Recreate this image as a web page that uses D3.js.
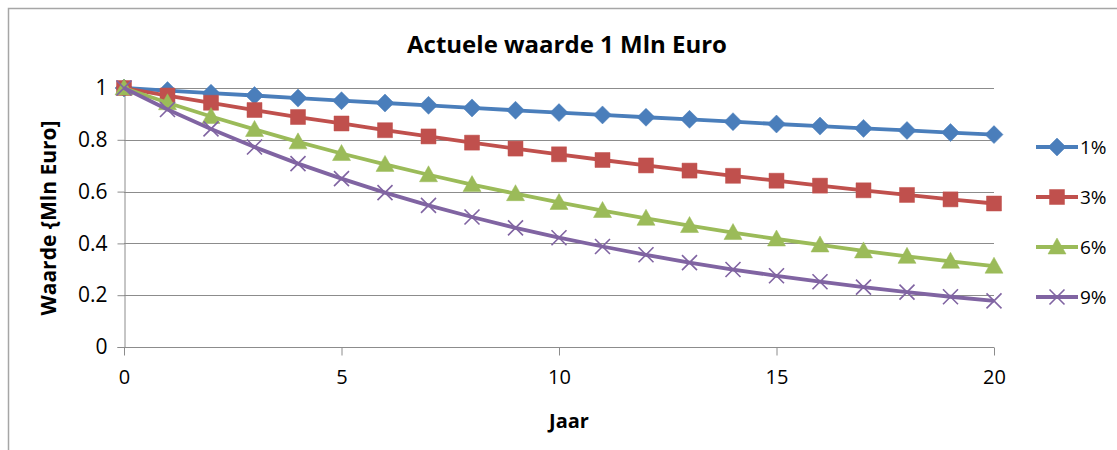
<!DOCTYPE html>
<html>
<head>
<meta charset="utf-8">
<script src="https://cdn.jsdelivr.net/npm/d3@7"></script>
<style>
  html, body { margin: 0; padding: 0; background: #fff; }
  svg { display: block; }
  text { font-family: "Open Sans", "Noto Sans", sans-serif; fill: #000; }
</style>
</head>
<body>
<svg id="chart" width="1117" height="450"></svg>
<script>
// Years on the horizontal axis
const years = [0,1,2,3,4,5,6,7,8,9,10,11,12,13,14,15,16,17,18,19,20];

// Present value of 1 million euro per discount rate
const rate1 = [1.000,0.990,0.980,0.971,0.961,0.951,0.942,0.933,0.923,0.914,0.905,0.896,0.887,0.879,0.870,0.861,0.853,0.844,0.836,0.828,0.820];
const rate3 = [1.000,0.971,0.943,0.915,0.888,0.863,0.837,0.813,0.789,0.766,0.744,0.722,0.701,0.681,0.661,0.642,0.623,0.605,0.587,0.570,0.554];
const rate6 = [1.000,0.943,0.890,0.840,0.792,0.747,0.705,0.665,0.627,0.592,0.558,0.527,0.497,0.469,0.442,0.417,0.394,0.371,0.350,0.331,0.312];
const rate9 = [1.000,0.917,0.842,0.772,0.708,0.650,0.596,0.547,0.502,0.460,0.422,0.388,0.356,0.326,0.299,0.275,0.252,0.231,0.212,0.194,0.178];

const seriesNames = ["1%", "3%", "6%", "9%"];
const xTicks = [0, 5, 10, 15, 20];
const yTicks = [0, 0.2, 0.4, 0.6, 0.8, 1];

const seriesValues = [rate1, rate3, rate6, rate9];
const colors = ["#4a7ebb", "#c0504d", "#9bbb59", "#8064a2"];
const markers = ["diamond", "square", "triangle", "cross"];

const svg = d3.select("#chart");

// Outer chart frame (only top and left edges are in view)
svg.append("path")
  .attr("d", "M8.5,450 L8.5,8.5 L1117,8.5")
  .attr("fill", "none")
  .attr("stroke", "#a6a6a6")
  .attr("stroke-width", 1.5);

const plot = { left: 124, right: 994, top: 88, bottom: 347 };

const x = d3.scaleLinear().domain([0, 20]).range([plot.left, plot.right]);
const y = d3.scaleLinear().domain([0, 1]).range([plot.bottom, plot.top]);

// Horizontal gridlines
svg.append("g")
  .selectAll("line")
  .data(yTicks.filter(d => d > 0))
  .join("line")
  .attr("x1", plot.left).attr("x2", plot.right)
  .attr("y1", d => Math.round(y(d)) + 0.5).attr("y2", d => Math.round(y(d)) + 0.5)
  .attr("stroke", "#8c8c8c")
  .attr("stroke-width", 1);

// Y axis
const yAxis = svg.append("g")
  .attr("transform", `translate(${plot.left + 0.5},0)`)
  .call(d3.axisLeft(y).tickValues(yTicks).tickSize(7).tickPadding(10)
    .tickFormat(d => d === 0 ? "0" : d === 1 ? "1" : d3.format(".1f")(d)));
yAxis.select(".domain").attr("stroke", "#8c8c8c");
yAxis.selectAll(".tick line").attr("stroke", "#8c8c8c");
yAxis.selectAll(".tick text")
  .attr("font-size", 21)
  .attr("fill", "#000")
  .style("font-family", "'Open Sans', sans-serif");

// X axis
const xAxis = svg.append("g")
  .attr("transform", `translate(0,${plot.bottom + 0.5})`)
  .call(d3.axisBottom(x).tickValues(xTicks).tickSize(8).tickPadding(14)
    .tickFormat(d3.format("d")));
xAxis.select(".domain").attr("stroke", "#8c8c8c").attr("d", `M${plot.left},0H${plot.right}`);
xAxis.selectAll(".tick line").attr("stroke", "#8c8c8c");
xAxis.selectAll(".tick text")
  .attr("font-size", 20)
  .attr("fill", "#3a3a3a")
  .style("font-family", "'Open Sans', sans-serif");

// Marker shapes
function markerPath(type) {
  switch (type) {
    case "diamond": return "M0,-9 L9,0 L0,9 L-9,0 Z";
    case "square": return "M-7.5,-7.5 H7.5 V7.5 H-7.5 Z";
    case "triangle": return "M0,-9 L9,7 L-9,7 Z";
    case "cross": return "M-7.5,-7.5 L7.5,7.5 M7.5,-7.5 L-7.5,7.5";
  }
}

const line = d3.line()
  .x((d, i) => x(years[i]))
  .y(d => y(d));

seriesValues.forEach((vals, s) => {
  const g = svg.append("g");
  g.append("path")
    .datum(vals)
    .attr("d", line)
    .attr("fill", "none")
    .attr("stroke", colors[s])
    .attr("stroke-width", 3.8)
    .attr("stroke-linejoin", "round");
  const isCross = markers[s] === "cross";
  g.selectAll("path.mk")
    .data(vals)
    .join("path")
    .attr("class", "mk")
    .attr("transform", (d, i) => `translate(${x(years[i])},${y(d)})`)
    .attr("d", markerPath(markers[s]))
    .attr("fill", isCross ? "none" : colors[s])
    .attr("stroke", colors[s])
    .attr("stroke-width", isCross ? 1.6 : 0.5);
});

// Title
svg.append("text")
  .attr("x", 567).attr("y", 53)
  .attr("text-anchor", "middle")
  .attr("font-size", 24)
  .attr("font-weight", "bold")
  .text("Actuele waarde 1 Mln Euro");

// Axis titles
svg.append("text")
  .attr("x", 569).attr("y", 428)
  .attr("text-anchor", "middle")
  .attr("font-size", 20)
  .attr("font-weight", "bold")
  .attr("fill", "#2a2a2a")
  .text("Jaar");

svg.append("text")
  .attr("transform", "translate(56,218) rotate(-90)")
  .attr("text-anchor", "middle")
  .attr("font-size", 21)
  .attr("font-weight", "bold")
  .text("Waarde {Mln Euro]");

// Legend
const legend = svg.append("g");
seriesNames.forEach((name, s) => {
  const cy = 147 + s * 50;
  const item = legend.append("g");
  item.append("line")
    .attr("x1", 1036).attr("x2", 1078)
    .attr("y1", cy).attr("y2", cy)
    .attr("stroke", colors[s]).attr("stroke-width", 3.8);
  const isCross = markers[s] === "cross";
  item.append("path")
    .attr("transform", `translate(1057,${cy})`)
    .attr("d", markerPath(markers[s]))
    .attr("fill", isCross ? "none" : colors[s])
    .attr("stroke", colors[s])
    .attr("stroke-width", isCross ? 1.6 : 0.5);
  item.append("text")
    .attr("x", 1080).attr("y", cy)
    .attr("dy", "0.35em")
    .attr("font-size", 19)
    .text(name);
});
</script>
</body>
</html>
